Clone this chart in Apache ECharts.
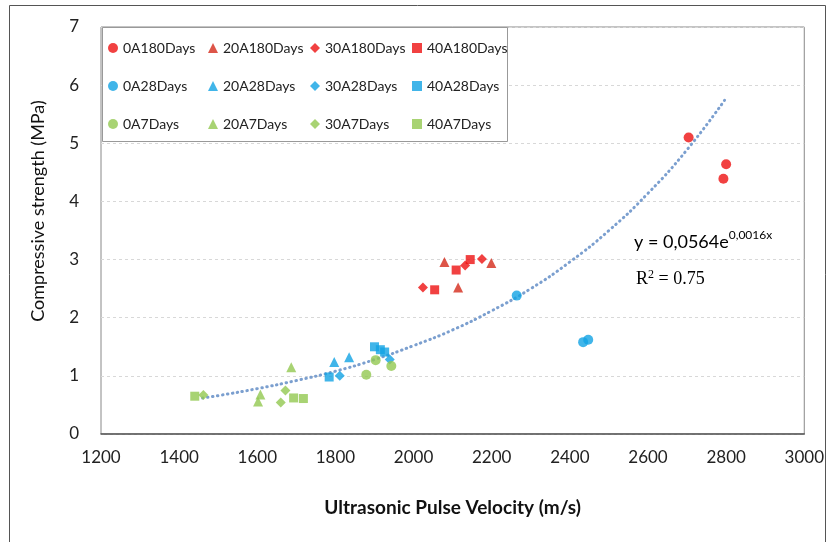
<!DOCTYPE html>
<html><head><meta charset="utf-8">
<script src="https://cdn.jsdelivr.net/npm/echarts@6/dist/echarts.min.js"></script>
<style>html,body{margin:0;padding:0;background:#fff}#c{width:827px;height:542px}</style>
</head><body><div id="c"></div>
<script>
// ---- data ----
const xTicks = [1200,1400,1600,1800,2000,2200,2400,2600,2800,3000];
const yTicks = [0,1,2,3,4,5,6,7];
const s0A180 = [[2704,5.10],[2800,4.64],[2793,4.39]];
const s20A180 = [[2079,2.96],[2114,2.52],[2199,2.94]];
const s30A180 = [[2024,2.52],[2132,2.90],[2175,3.01]];
const s40A180 = [[2054,2.48],[2109,2.82],[2145,3.00]];
const s0A28 = [[2264,2.38],[2434,1.58],[2447,1.62]];
const s20A28 = [[1797,1.24],[1835,1.32]];
const s30A28 = [[1811,1.00],[1939,1.28]];
const s40A28 = [[1784,0.98],[1900,1.50],[1915,1.45],[1926,1.41]];
const s0A7 = [[1879,1.02],[1903,1.27],[1943,1.17]];
const s20A7 = [[1687,1.15],[1608,0.68],[1602,0.56]];
const s30A7 = [[1462,0.67],[1672,0.75],[1660,0.54]];
const s40A7 = [[1440,0.65],[1693,0.62],[1718,0.61]];
// trendline points
const trend = [[1460,0.62],[1500,0.66],[1600,0.78],[1700,0.92],[1800,1.08],[1900,1.28],[2000,1.52],[2100,1.79],[2200,2.12],[2300,2.50],[2400,2.96],[2500,3.50],[2600,4.14],[2700,4.89],[2796,5.74]];

const RED='#ee1111', RED_T='#d42a1a', BLUE='#12a3e3', GREEN='#92c850';
const DIA='path://M0,-1L1,0L0,1L-1,0Z';
function sc(name,data,color,symbol,size){
  return {name,type:'scatter',data,symbol,symbolSize:size,itemStyle:{color},z:3};
}
const series=[
  sc('0A180Days',s0A180,RED,'circle',10),
  sc('20A180Days',s20A180,RED_T,'triangle',10),
  sc('30A180Days',s30A180,RED,DIA,10),
  sc('40A180Days',s40A180,RED,'rect',9),
  sc('0A28Days',s0A28,BLUE,'circle',10),
  sc('20A28Days',s20A28,BLUE,'triangle',10),
  sc('30A28Days',s30A28,BLUE,DIA,10),
  sc('40A28Days',s40A28,BLUE,'rect',9),
  sc('0A7Days',s0A7,GREEN,'circle',10),
  sc('20A7Days',s20A7,GREEN,'triangle',10),
  sc('30A7Days',s30A7,GREEN,DIA,10),
  sc('40A7Days',s40A7,GREEN,'rect',9),
  {name:'trend',type:'line',data:trend,smooth:true,showSymbol:false,symbol:'none',z:2,
   lineStyle:{color:'#7b9fcf',width:3,type:[0.5,4.5],cap:'round'},silent:true}
];
const cols=[['0A180Days','0A28Days','0A7Days'],['20A180Days','20A28Days','20A7Days'],
            ['30A180Days','30A28Days','30A7Days'],['40A180Days','40A28Days','40A7Days']];
const colX=[108,208,310,412];
const legends=cols.map((d,i)=>({data:d,orient:'vertical',left:colX[i],top:41,padding:0,itemWidth:10,itemHeight:10,itemGap:24,
  textStyle:{fontFamily:'Lato',fontSize:14,color:'#222'},selectedMode:false,z:5}));

const chart=echarts.init(document.getElementById('c'));
chart.setOption({
  animation:false,
  backgroundColor:'#fff',
  grid:{left:101,right:20,top:27,bottom:108,show:true,borderColor:'#888',borderWidth:1},
  legend:legends,
  xAxis:{type:'value',min:xTicks[0],max:xTicks[xTicks.length-1],interval:200,
    name:'Ultrasonic Pulse Velocity (m/s)',nameLocation:'middle',nameGap:64,
    nameTextStyle:{fontFamily:'Lato',fontSize:19,fontWeight:'bold',color:'#111'},
    axisLine:{lineStyle:{color:'#555',width:1.5}},axisTick:{show:false},
    axisLabel:{fontFamily:'Lato',fontSize:17,color:'#222',margin:15,formatter:v=>String(v)},
    splitLine:{show:false}},
  yAxis:{type:'value',min:yTicks[0],max:yTicks[yTicks.length-1],interval:1,
    axisLine:{show:false},axisTick:{show:false},
    axisLabel:{fontFamily:'Lato',fontSize:17,color:'#222',margin:22},
    splitLine:{lineStyle:{color:'#d8d8d8',type:[3,3]}}},
  series,
  graphic:[
    {type:'rect',shape:{x:9.5,y:5.5,width:816,height:540},style:{fill:null,stroke:'#555',lineWidth:1},z:0,silent:true},
    {type:'rect',shape:{x:102.5,y:27.5,width:405,height:114},style:{fill:'#fff',stroke:'#999',lineWidth:1},z:4,silent:true},
    {type:'text',x:38,y:211,rotation:Math.PI/2,z:6,style:{text:'Compressive strength (MPa)',fontFamily:'Lato',fontSize:18,fill:'#111',align:'center',verticalAlign:'middle'}},
    {type:'text',left:634,top:229,z:6,style:{text:'{a|y = 0,0564e}{b|0,0016x}',rich:{
       a:{fontFamily:'Lato',fontSize:18,color:'#111',verticalAlign:'bottom'},
       b:{fontFamily:'Lato',fontSize:12,color:'#111',verticalAlign:'top',padding:[0,0,10,0]}}}},
    {type:'text',left:636,top:269,z:6,style:{text:'{a|R}{b|2}{a| = 0.75}',rich:{
       a:{fontFamily:'Liberation Serif',fontSize:18,color:'#111'},
       b:{fontFamily:'Liberation Serif',fontSize:12,color:'#111',padding:[0,0,8,0]}}}}
  ]
});
</script></body></html>
